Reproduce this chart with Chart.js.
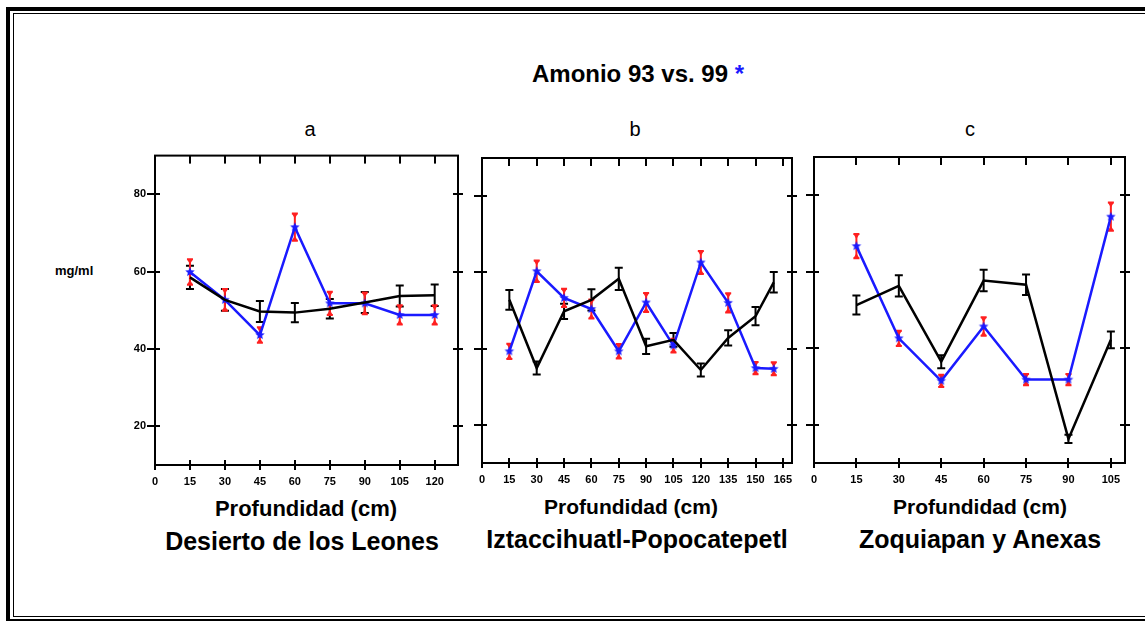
<!DOCTYPE html>
<html>
<head>
<meta charset="utf-8">
<title>Amonio 93 vs. 99</title>
<script src="https://cdn.jsdelivr.net/npm/chart.js@4.4.1/dist/chart.umd.min.js"></script>
<style>
  body { margin: 0; width: 1145px; height: 621px; overflow: hidden; position: relative; background: #fff;
         font-family: "Liberation Sans", Arial, sans-serif; color: #000; }
  .frame-out { position: absolute; left: 6px; top: 7px; width: 1170px; height: 616px; border: 4px solid #000; box-sizing: border-box; }
  .frame-in { position: absolute; left: 13px; top: 13px; width: 1160px; height: 604px; border: 1px solid #000; box-sizing: border-box; }
  .txt { position: absolute; transform: translate(-50%, -50%); white-space: nowrap; }
  .title { font-size: 24px; font-weight: bold; }
  .letter { font-size: 20px; }
  .xtitle { font-size: 21px; font-weight: bold; }
  .site { font-size: 25px; font-weight: bold; }
  .unit { position: absolute; left: 55px; top: 263px; font-size: 13px; font-weight: bold; }
  canvas { position: absolute; }
</style>
</head>
<body>
<div class="frame-out"></div>
<div class="frame-in"></div>

<div class="txt title" style="left:638px; top:74px;">Amonio 93 vs. 99 <span style="color:#1a1aff">*</span></div>
<div class="txt letter" style="left:310px; top:129px;">a</div>
<div class="txt letter" style="left:635px; top:129px;">b</div>
<div class="txt letter" style="left:970px; top:129px;">c</div>
<div class="unit">mg/ml</div>

<div class="txt xtitle" style="left:306px; top:509px; font-size:22px;">Profundidad (cm)</div>
<div class="txt xtitle" style="left:631px; top:507px;">Profundidad (cm)</div>
<div class="txt xtitle" style="left:980px; top:507px;">Profundidad (cm)</div>
<div class="txt site" style="left:302px; top:541px;">Desierto de los Leones</div>
<div class="txt site" style="left:637px; top:539px;">Iztaccihuatl-Popocatepetl</div>
<div class="txt site" style="left:980px; top:539px;">Zoquiapan y Anexas</div>

<canvas id="panelA" width="365" height="355" style="left:105px; top:140px;"></canvas>
<canvas id="panelB" width="372" height="347" style="left:432px; top:146px;"></canvas>
<canvas id="panelC" width="373" height="348" style="left:764px; top:145px;"></canvas>

<script>
// a: Desierto de los Leones
const depthA = [15, 30, 45, 60, 75, 90, 105, 120];
const amonio93A = [58.5, 52.7, 49.7, 49.4, 50.4, 52.0, 53.7, 53.9];
const err93A = [3.0, 2.8, 2.7, 2.5, 2.5, 2.7, 2.7, 2.8];
const amonio99A = [59.9, 52.7, 43.6, 71.5, 51.8, 51.8, 48.8, 48.8];
const err99A = [3.3, 2.8, 2.0, 3.5, 3.0, 2.8, 2.5, 2.5];

// b: Iztaccihuatl-Popocatepetl
const depthB = [15, 30, 45, 60, 75, 90, 105, 120, 135, 150, 160];
const amonio93B = [52.8, 34.9, 49.8, 52.8, 58.3, 40.6, 42.3, 34.4, 42.8, 48.5, 57.4];
const err93B = [2.6, 1.7, 2.0, 2.8, 2.9, 2.0, 1.8, 1.7, 2.0, 2.4, 2.7];
const amonio99B = [39.3, 60.3, 53.3, 50.4, 39.3, 52.1, 40.8, 62.6, 52.0, 34.9, 34.7];
const err99B = [2.0, 2.8, 2.4, 2.5, 1.9, 2.5, 1.8, 3.0, 2.5, 1.6, 1.7];

// c: Zoquiapan y Anexas
const depthC = [15, 30, 45, 60, 75, 90, 105];
const amonio93C = [51.3, 56.3, 36.5, 57.7, 56.6, 16.3, 42.2];
const err93C = [2.5, 2.8, 1.7, 2.8, 2.7, 1.1, 2.2];
const amonio99C = [66.7, 42.6, 31.5, 45.7, 31.8, 31.8, 74.4];
const err99C = [3.2, 2.0, 1.6, 2.4, 1.5, 1.5, 3.7];

// axis ticks
const yTicks = [20, 40, 60, 80];
const xTicksA = [0, 15, 30, 45, 60, 75, 90, 105, 120];
const xTicksB = [0, 15, 30, 45, 60, 75, 90, 105, 120, 135, 150, 165];
const xTicksC = [0, 15, 30, 45, 60, 75, 90, 105];

Chart.defaults.font.family = '"Liberation Sans", Arial, sans-serif';
Chart.defaults.color = '#000';

const BLUE = '#1a1aff';
const RED = '#ff2020';

// filled five point star used as the 99 marker
function starImage(r, color) {
  const c = document.createElement('canvas');
  c.width = c.height = Math.ceil(r * 2 + 2);
  const g = c.getContext('2d');
  g.fillStyle = color;
  g.beginPath();
  for (let i = 0; i < 10; i++) {
    const a = -Math.PI / 2 + i * Math.PI / 5;
    const rr = i % 2 ? r * 0.45 : r;
    g.lineTo(c.width / 2 + rr * Math.cos(a), c.height / 2 + rr * Math.sin(a));
  }
  g.closePath();
  g.fill();
  return c;
}
const star = starImage(5, BLUE);

// vertical error bars, read from dataset.errors
const errorBars = {
  id: 'errorBars',
  beforeDatasetsDraw(chart) {
    const ctx = chart.ctx;
    const yScale = chart.scales.y;
    chart.data.datasets.forEach((ds, i) => {
      if (!ds.errors) return;
      const meta = chart.getDatasetMeta(i);
      ctx.save();
      ctx.strokeStyle = ds.errColor;
      ctx.fillStyle = ds.errColor;
      ctx.lineWidth = 2;
      meta.data.forEach((pt, j) => {
        const v = ds.data[j].y;
        const e = ds.errors[j];
        const top = yScale.getPixelForValue(v + e);
        const bot = yScale.getPixelForValue(v - e);
        const px = pt.x;
        const w = ds.capWidth;
        ctx.beginPath();
        ctx.moveTo(px, top); ctx.lineTo(px, bot);
        ctx.moveTo(px - w, top); ctx.lineTo(px + w, top);
        ctx.moveTo(px - w, bot); ctx.lineTo(px + w, bot);
        ctx.stroke();
        if (ds.capArrows) {
          ctx.beginPath();
          ctx.moveTo(px - w, top); ctx.lineTo(px + w, top); ctx.lineTo(px, top + 5); ctx.closePath();
          ctx.moveTo(px - w, bot); ctx.lineTo(px + w, bot); ctx.lineTo(px, bot - 5); ctx.closePath();
          ctx.fill();
        }
      });
      ctx.restore();
    });
  }
};

// box around the plot with tick marks crossing its sides
function plotFrame(xTicks) {
  return {
    id: 'plotFrame',
    afterDraw(chart) {
      const ctx = chart.ctx;
      const area = chart.chartArea;
      const xs = chart.scales.x;
      const ys = chart.scales.y;
      const xMin = Number.isFinite(xs.min) ? xs.min : chart.options.scales.x.min;
      const xMax = Number.isFinite(xs.max) ? xs.max : chart.options.scales.x.max;
      const w = area.right - area.left;
      ctx.save();
      ctx.globalCompositeOperation = 'source-over';
      ctx.setLineDash([]);
      ctx.fillStyle = '#000';
      ctx.strokeStyle = '#000';
      ctx.lineWidth = 2;
      ctx.strokeRect(area.left, area.top, w, area.bottom - area.top);
      xTicks.forEach(v => {
        if (v === 0) return;
        let px = xs.getPixelForValue(v);
        if (!Number.isFinite(px)) px = area.left + (v - xMin) / (xMax - xMin) * w;
        px = Math.round(px);
        ctx.fillRect(px - 1, area.bottom - 5, 2, 10);
        ctx.fillRect(px - 1, area.top, 2, 8);
      });
      yTicks.forEach(v => {
        const py = Math.round(ys.getPixelForValue(v));
        ctx.fillRect(area.left - 8, py - 1, 13, 2);
        ctx.fillRect(area.right - 5, py - 1, 10, 2);
      });
      ctx.restore();
    }
  };
}

function makePanel(id, depth, v93, e93, v99, e99, xMax, xTicks, showY) {
  return new Chart(document.getElementById(id), {
    type: 'line',
    data: {
      datasets: [
        {
          label: '93',
          data: v93.map((v, i) => ({ x: depth[i], y: v })),
          errors: e93, errColor: '#000', capWidth: 4,
          borderColor: '#000', borderWidth: 2.5, pointRadius: 0, tension: 0
        },
        {
          label: '99',
          data: v99.map((v, i) => ({ x: depth[i], y: v })),
          errors: e99, errColor: RED, capWidth: 3, capArrows: true,
          borderColor: BLUE, borderWidth: 2.5, pointStyle: star, pointRadius: 5, tension: 0
        }
      ]
    },
    options: {
      responsive: false,
      animation: false,
      layout: { padding: { top: 12, right: 12, left: 0, bottom: 0 } },
      plugins: { legend: { display: false }, tooltip: { enabled: false } },
      scales: {
        x: {
          type: 'linear', min: 0, max: xMax,
          afterBuildTicks: s => { s.ticks = xTicks.map(v => ({ value: v })); },
          afterFit: s => { s.height = 30; },
          grid: { display: true, drawOnChartArea: false, drawTicks: true, tickLength: 5, lineWidth: 2, color: '#000' },
          border: { display: false },
          ticks: { padding: 5, font: { size: 11, weight: 'bold' }, maxRotation: 0, autoSkip: false }
        },
        y: {
          type: 'linear', min: 10, max: 90,
          afterBuildTicks: s => { s.ticks = yTicks.map(v => ({ value: v })); },
          afterFit: s => { s.width = 50; },
          grid: { display: false, drawTicks: false },
          border: { display: false },
          ticks: { display: showY, padding: 9, font: { size: 11, weight: 'bold' } }
        }
      }
    },
    plugins: [errorBars, plotFrame(xTicks)]
  });
}

makePanel('panelA', depthA, amonio93A, err93A, amonio99A, err99A, 130, xTicksA, true);
makePanel('panelB', depthB, amonio93B, err93B, amonio99B, err99B, 170, xTicksB, false);
makePanel('panelC', depthC, amonio93C, err93C, amonio99C, err99C, 110, xTicksC, false);
</script>
</body>
</html>
